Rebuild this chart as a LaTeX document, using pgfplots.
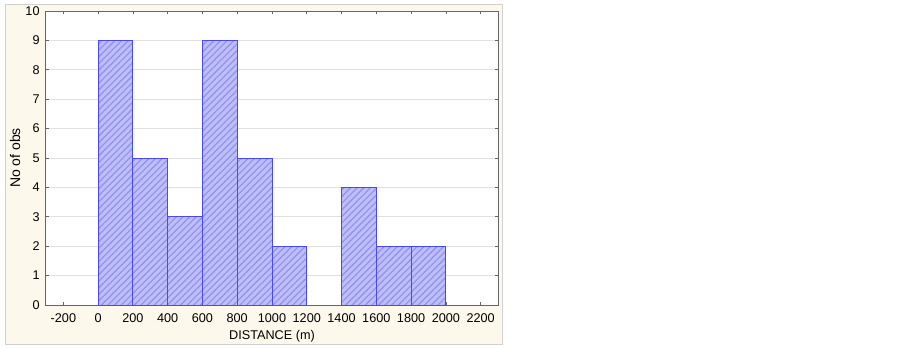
\documentclass[border=0pt]{standalone}
\usepackage{pgfplots}
\pgfplotsset{compat=1.18}
\usetikzlibrary{patterns.meta}
\usepackage{fontspec}
\setmainfont{Liberation Sans}
\definecolor{panel}{HTML}{FCF8EC}
\definecolor{barfill}{HTML}{BEBEF8}
\definecolor{barhatch}{HTML}{9494F0}
\definecolor{baredge}{HTML}{4848F5}
\begin{document}
\begin{tikzpicture}
\fill[white] (0,0) rectangle (677.25pt,260.25pt);
\filldraw[fill=panel,draw=black!18,line width=0.75pt] (3.75pt,2.25pt) rectangle (376.5pt,256.5pt);
\begin{axis}[
 at={(34.5pt,31.5pt)}, anchor=south west,
 scale only axis, width=339pt, height=220.5pt,
 xmin=-300,xmax=2300,ymin=0,ymax=10,
 xtick={-200,0,...,2200}, ytick={0,...,10},
 tick align=inside, tick pos=both, major tick length=2.25pt,
 axis background/.style={fill=white},
 ymajorgrids, grid style={draw=black!12,line width=0.5pt},
 axis line style={draw=black!60,line width=0.75pt},
 tick style={draw=black!60,line width=0.5pt},
 /pgf/number format/assume math mode=true,
 /pgf/number format/1000 sep={},
 ticklabel style={font=\fontsize{9.5}{11}\selectfont, text=black},
 xticklabel style={yshift=-3pt},
 yticklabel style={xshift=-1.3pt},
 xlabel={DISTANCE (m)}, ylabel={No of obs},
 xlabel style={font=\fontsize{9.5}{11}\selectfont,at={(axis description cs:0.5,0)},anchor=center,yshift=-23.25pt},
 ylabel style={font=\fontsize{10.5}{12}\selectfont,at={([xshift=-23.25pt]axis description cs:0,0.5)},anchor=center},
]
\addplot[ybar interval, draw=baredge, line width=0.75pt, fill=barfill,
  postaction={pattern={Lines[angle=45,distance=3.5pt,line width=1pt]}, pattern color=barhatch}]
  coordinates {(0,9)(200,5)(400,3)(600,9)(800,5)(1000,2)(1200,2)};
\addplot[ybar interval, draw=baredge, line width=0.75pt, fill=barfill,
  postaction={pattern={Lines[angle=45,distance=3.5pt,line width=1pt]}, pattern color=barhatch}]
  coordinates {(1400,4)(1600,2)(1800,2)(2000,2)};
\end{axis}
\end{tikzpicture}
\end{document}
